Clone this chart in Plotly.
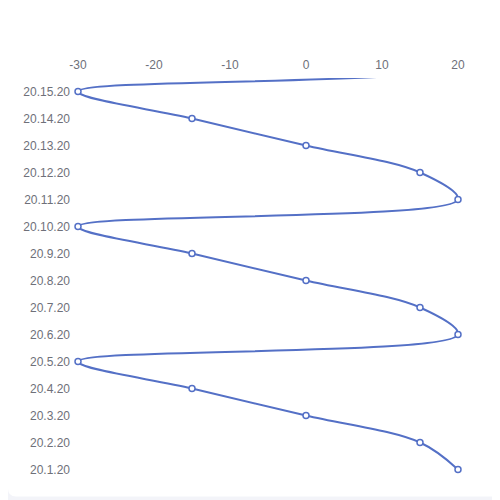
import plotly.graph_objects as go

# category labels on the vertical axis (bottom to top)
days = ['20.1.20', '20.2.20', '20.3.20', '20.4.20', '20.5.20',
        '20.6.20', '20.7.20', '20.8.20', '20.9.20', '20.10.20',
        '20.11.20', '20.12.20', '20.13.20', '20.14.20', '20.15.20']
# the series runs on past the last label; those points fall outside the grid
values = [20, 15, 0, -15, -30, 20, 15, 0, -15, -30, 20, 15, 0, -15, -30, 20, 15]
x_ticks = [-30, -20, -10, 0, 10, 20]

# the page body adds an 8px offset, so the figure is laid out in its own pixels
W, H = 500, 500
L, R, T, B = 70, 50, 70, 24.5
pw, ph = W - L - R, H - T - B


def px_to_paper(px, py):
    return (px - L) / pw, (H - B - py) / ph


# white card with rounded corners over a light grey page
x0, y0 = px_to_paper(0, 489)
x1, y1 = px_to_paper(520, -20)
rx, ry = 8 / pw, 8 / ph
card = (f'M {x0 + rx} {y0} L {x1} {y0} L {x1} {y1} L {x0} {y1} '
        f'L {x0} {y0 + ry} Q {x0} {y0} {x0 + rx} {y0} Z')

idx = list(range(len(values)))

fig = go.Figure()
fig.add_trace(go.Scatter(x=values, y=idx, mode='lines',
                         line=dict(color='#5470c6', width=2, shape='spline', smoothing=1),
                         hoverinfo='skip', showlegend=False))
fig.add_trace(go.Scatter(x=values[:len(days)], y=idx[:len(days)], mode='markers',
                         marker=dict(symbol='circle', size=6, color='white',
                                     line=dict(color='#5470c6', width=1.5)),
                         cliponaxis=False, showlegend=False))

fig.update_layout(width=W, height=H,
                  margin=dict(l=L, r=R, t=T, b=B, pad=0),
                  paper_bgcolor='#f3f4f9', plot_bgcolor='white',
                  font=dict(family='Liberation Sans, Arial, sans-serif', size=12, color='#6e7079'),
                  shapes=[dict(type='path', path=card, xref='paper', yref='paper',
                               fillcolor='white', line_width=0, layer='below')])
fig.update_xaxes(side='top', range=[-30, 20], tickvals=x_ticks,
                 ticktext=[str(v) for v in x_ticks], showgrid=False,
                 zeroline=False, showline=False, ticks='', ticklabelstandoff=6)
fig.update_yaxes(range=[-0.5, len(days) - 0.5], tickvals=list(range(len(days))), ticktext=days,
                 showgrid=False, zeroline=False, showline=False, ticks='', ticklabelstandoff=7)

fig.write_html("out.html")
